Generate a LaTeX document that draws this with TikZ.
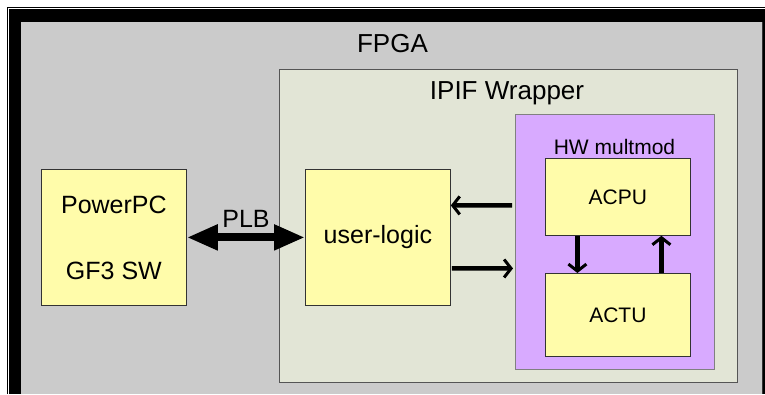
\documentclass[tikz,border=0pt]{standalone}
\usepackage{fontspec}
\setmainfont{Liberation Sans}
\usetikzlibrary{arrows.meta}
\definecolor{fpgagray}{RGB}{203,203,203}
\definecolor{ipiffill}{RGB}{226,229,214}
\definecolor{boxyellow}{RGB}{255,252,170}
\definecolor{hwpurple}{RGB}{216,170,255}
\definecolor{edgegray}{RGB}{85,85,85}
\begin{document}
\begin{tikzpicture}[x=1pt,y=-1pt,
  container/.style={draw=edgegray, line width=0.9pt, inner sep=0pt, anchor=north west},
  unitbox/.style={draw=black!80, line width=0.8pt, fill=boxyellow, inner sep=0pt, anchor=north west, align=center},
  title/.style={anchor=base, inner sep=0pt},
  busarrow/.style={line width=8pt, {Triangle[length=31pt,width=24pt]}-{Triangle[length=31pt,width=24pt]}},
  sigarrow/.style={line width=4.5pt, -{Straight Barb[length=7pt,width=18pt,line width=3pt]}}
]
\useasboundingbox (0,0) rectangle (765,394);
\fill[white] (0,0) rectangle (765,394);
\draw[line width=0.8pt] (7,394) -- (7,7) -- (765,7);
\fill[black] (9,9) rectangle (765,394);
\fill[fpgagray] (21,22) rectangle (762,394);
\draw[line width=1pt, black!80] (762,22) -- (762,394);
\node[title, font=\fontsize{26}{30}\selectfont] (fpgalabel) at (392.5,52) {FPGA};

\node[container, fill=ipiffill, minimum width=458pt, minimum height=313pt] (ipif) at (279,69) {};
\node[title, font=\fontsize{26}{30}\selectfont] (ipiflabel) at (507,99) {IPIF Wrapper};

\node[container, draw=gray, fill=hwpurple, minimum width=199pt, minimum height=255pt] (hw) at (515,114) {};
\node[title, font=\fontsize{21}{25}\selectfont] (hwlabel) at (614.5,154) {HW multmod};

\node[unitbox, minimum width=145pt, minimum height=77pt, font=\fontsize{21}{25}\selectfont] (acpu) at (545,158) {ACPU};
\node[unitbox, minimum width=145pt, minimum height=83pt, font=\fontsize{21}{25}\selectfont] (actu) at (545,273) {ACTU};

\node[unitbox, minimum width=145pt, minimum height=136pt, font=\fontsize{25}{30}\selectfont] (ul) at (305,169) {user-logic};
\node[unitbox, minimum width=145pt, minimum height=136pt, font=\fontsize{25}{66}\selectfont] (ppc) at (41,169) {PowerPC\\GF3 SW};

\draw[busarrow] (ppc.east) -- (ul.west);
\node[title, font=\fontsize{25}{30}\selectfont] (plblabel) at (246,227) {PLB};

\draw[sigarrow, shorten <=3pt] ([yshift=36.5pt]hw.west) -- ([yshift=32pt]ul.east);
\draw[sigarrow, shorten <=1pt, shorten >=2pt] ([yshift=-31pt]ul.east) -- ([yshift=-26.5pt]hw.west);
\draw[sigarrow] ([xshift=-40.5pt]acpu.south) -- ([xshift=-40.5pt]actu.north);
\draw[sigarrow] ([xshift=43.5pt]actu.north) -- ([xshift=43.5pt]acpu.south);
\end{tikzpicture}
\end{document}
